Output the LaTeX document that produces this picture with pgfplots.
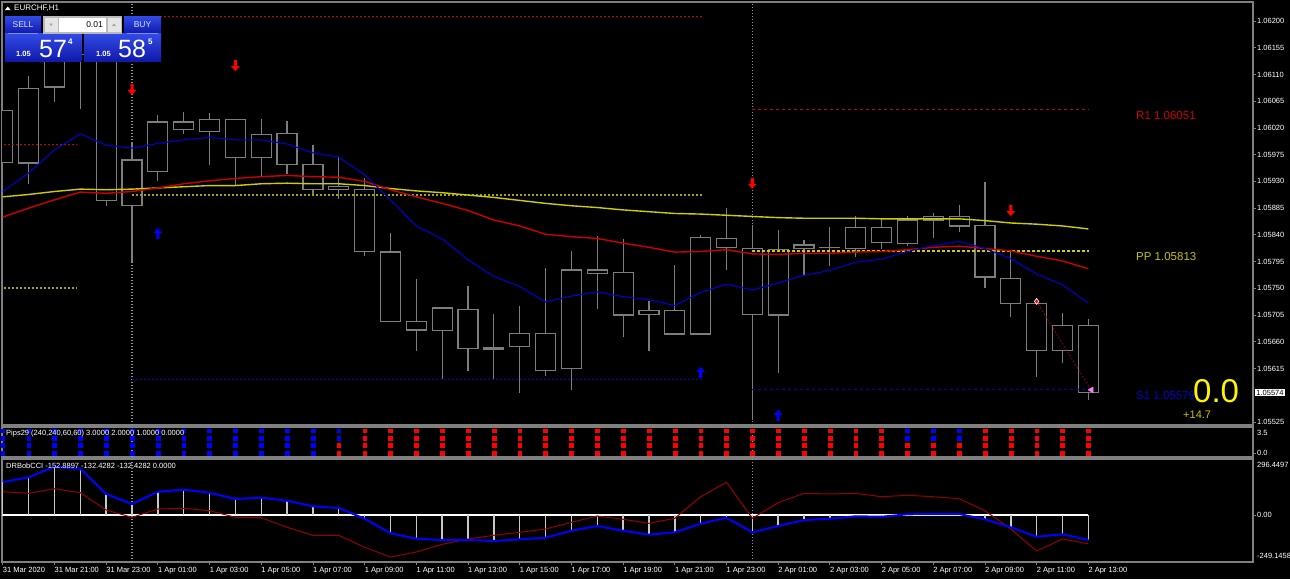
\documentclass[border=0pt]{standalone}
\usepackage{pgfplots}
\pgfplotsset{compat=1.18}
\usepackage{pgfplotstable}
\usepackage{fontspec}
\setmainfont{Liberation Sans}

\definecolor{candle}{RGB}{125,125,125}
\definecolor{panelgray}{RGB}{128,128,128}
\definecolor{mablue}{RGB}{0,0,205}
\definecolor{mared}{RGB}{205,0,0}
\definecolor{mayel}{RGB}{205,205,0}
\definecolor{olivetwo}{RGB}{165,165,0}
\definecolor{ppcol}{RGB}{195,195,0}
\definecolor{ccired}{RGB}{150,0,0}
\definecolor{histgray}{RGB}{200,200,200}
\definecolor{btnTop}{RGB}{50,75,230}
\definecolor{btnBot}{RGB}{15,25,170}
\definecolor{pinkm}{RGB}{238,130,238}
\definecolor{seltext}{RGB}{215,225,255}

\pgfdeclareplotmark{dnarrow}{%
 \pgfpathmoveto{\pgfqpoint{-1.5pt}{6pt}}%
 \pgfpathlineto{\pgfqpoint{1.5pt}{6pt}}%
 \pgfpathlineto{\pgfqpoint{1.5pt}{0pt}}%
 \pgfpathlineto{\pgfqpoint{4.3pt}{0pt}}%
 \pgfpathlineto{\pgfqpoint{0pt}{-5pt}}%
 \pgfpathlineto{\pgfqpoint{-4.3pt}{0pt}}%
 \pgfpathlineto{\pgfqpoint{-1.5pt}{0pt}}%
 \pgfpathclose\pgfusepathqfill}
\pgfdeclareplotmark{uparrow}{%
 \pgfpathmoveto{\pgfqpoint{-1.5pt}{-6pt}}%
 \pgfpathlineto{\pgfqpoint{1.5pt}{-6pt}}%
 \pgfpathlineto{\pgfqpoint{1.5pt}{0pt}}%
 \pgfpathlineto{\pgfqpoint{4.3pt}{0pt}}%
 \pgfpathlineto{\pgfqpoint{0pt}{5pt}}%
 \pgfpathlineto{\pgfqpoint{-4.3pt}{0pt}}%
 \pgfpathlineto{\pgfqpoint{-1.5pt}{0pt}}%
 \pgfpathclose\pgfusepathqfill}

% prices in units of 0.00001 above 1.05000
\pgfplotstableread{
i wl bl bh wh
0 946 962 1049 1106
1 925 961 1087 1107
2 1063 1089 1151 1176
3 1052 1143 1185 1202
4 889 898 1160 1176
5 795 889 966 997
6 931 946 1030 1042
7 1009 1017 1030 1047
8 957 1014 1034 1045
9 924 970 1034 1034
10 938 970 1009 1035
11 942 958 1011 1031
12 908 917 958 991
13 900 917 921 972
14 805 812 917 935
15 694 694 811 843
16 645 680 694 765
17 597 679 717 717
18 610 649 715 754
19 597 648 650 707
20 574 652 674 720
21 602 611 674 784
22 578 615 781 813
23 715 775 781 838
24 668 705 777 833
25 645 706 713 729
26 673 673 713 789
27 673 673 835 840
28 781 819 834 886
29 528 706 817 857
30 608 705 816 849
31 771 817 823 831
32 788 819 819 853
33 802 817 852 871
34 816 827 852 868
35 822 826 865 872
36 835 865 871 876
37 845 855 871 891
38 751 769 856 929
39 702 724 767 813
40 600 646 724 724
41 625 646 687 709
42 562 575 687 698
}\candles

\pgfplotstableread{
i blue red yel
0 913 870 904
1 944 885 908
2 983 899 913
3 1010 912 917
4 991 910 916
5 986 913 917
6 994 919 919
7 1000 926 921
8 1004 931 923
9 1000 935 923
10 1000 938 926
11 993 940 927
12 978 938 926
13 971 937 926
14 941 930 923
15 899 916 918
16 855 904 914
17 833 893 911
18 798 881 907
19 770 865 903
20 753 855 898
21 727 841 893
22 737 837 889
23 744 834 886
24 736 826 882
25 731 819 879
26 721 811 876
27 743 812 875
28 757 815 873
29 747 808 871
30 759 807 869
31 772 809 868
32 780 809 868
33 794 811 868
34 799 812 867
35 812 815 867
36 822 819 867
37 829 821 867
38 817 817 864
39 800 813 860
40 774 804 858
41 756 796 855
42 725 783 850
}\mas

\pgfplotstableread{
i cci turbo
0 174.6 123.2
1 199.5 114.8
2 255.7 139.1
3 245.1 117.9
4 111.0 26.3
5 58.1 -12.4
6 123.2 31.6
7 133.8 35.3
8 117.9 22.6
9 84.6 -12.4
10 91.4 -14.5
11 75.6 -65.3
12 45.9 -107.7
13 36.9 -107.7
14 -19.8 -171.3
15 -97.1 -222.7
16 -125.7 -196.2
17 -132.6 -155.4
18 -132.6 -127.3
19 -137.9 -107.7
20 -128.9 -91.8
21 -120.4 -74.3
22 -83.4 -39.0
23 -58.4 -5.5
24 -83.4 -23.0
25 -104.5 -44.2
26 -91.8 -17.7
27 -46.3 96.7
28 -14.5 173.0
29 -91.8 -17.7
30 -58.4 65.0
31 -26.7 114.8
32 -19.8 111.1
33 -7.1 114.8
34 -9.2 96.7
35 3.5 104.2
36 5.1 96.7
37 5.1 86.2
38 -23.0 22.6
39 -65.4 -74.3
40 -115.1 -190.9
41 -102.4 -127.3
42 -132.4 -152.9
}\ccitab

\pgfplotsset{
 mtpanel/.style={
  scale only axis, width=1251pt, xmin=-0.03, xmax=48.37,
  axis line style={draw=panelgray, line width=1.2pt},
  tick label style={font=\fontsize{7.5}{9}\selectfont, text=white},
  ytick pos=right, yticklabel pos=right,
  tick align=outside, major tick length=3pt,
  tick style={draw=panelgray, line width=0.8pt},
  yticklabel style={anchor=west, inner sep=1pt},
  clip=true,
 },
 sep/.style={draw=gray!85, line width=1.2pt, dash pattern=on 1.5pt off 1.5pt},
}

\begin{document}
\begin{tikzpicture}
\useasboundingbox (0,0) rectangle (1290pt,-579pt);
\fill[black] (0,0) rectangle (1290pt,-579pt);

% ---------------- main price panel ----------------
\begin{axis}[mtpanel, at={(2pt,-425pt)}, anchor=south west, height=423pt,
  ymin=519.9, ymax=1232, xtick=\empty,
  ytick={1200,1155,1110,1065,1020,975,930,885,840,795,750,705,660,615,525},
  yticklabels={1.06200,1.06155,1.06110,1.06065,1.06020,1.05975,1.05930,1.05885,1.05840,1.05795,1.05750,1.05705,1.05660,1.05615,1.05525}]
\addplot[sep] coordinates {(5,519.9) (5,1232)};
\addplot[sep] coordinates {(29,519.9) (29,1232)};
% candles: wicks, body outline, body fill
\addplot[draw=none, mark=none, error bars/.cd, y dir=plus, y explicit, error mark=none,
  error bar style={draw=candle, line width=1.2pt, solid}]
  table[x=i, y=wl, y error expr=\thisrow{wh}-\thisrow{wl}] {\candles};
\addplot[draw=none, mark=none, error bars/.cd, y dir=plus, y explicit, error mark=none,
  error bar style={draw=candle, line width=21.2pt, solid}]
  table[x=i, y expr=\thisrow{bl}-1.0, y error expr=\thisrow{bh}-\thisrow{bl}+2.0] {\candles};
\addplot[draw=none, mark=none, error bars/.cd, y dir=plus, y explicit, error mark=none,
  error bar style={draw=black, line width=18.8pt, solid}]
  table[x=i, y expr=\thisrow{bl}+1.0, y error expr={max(\thisrow{bh}-\thisrow{bl}-2.0,0)}] {\candles};
% pivot levels
\addplot[draw=mared, line width=1.5pt, dash pattern=on 2pt off 2pt] coordinates {(-0.1,992) (2.87,992)};
\addplot[draw=olivetwo, line width=1.8pt, dash pattern=on 2pt off 2pt] coordinates {(-0.1,751) (2.87,751)};
\addplot[draw=mared, line width=1pt, dash pattern=on 2pt off 2pt] coordinates {(5,1208) (27.1,1208)};
\addplot[draw=olivetwo, line width=1.8pt, dash pattern=on 2pt off 2pt] coordinates {(5,907) (27.1,907)};
\addplot[draw=mablue, line width=1pt, dash pattern=on 2pt off 2pt] coordinates {(5,596) (27.1,596)};
\addplot[draw=mared, line width=0.9pt, dash pattern=on 3pt off 3pt] coordinates {(29,1051) (42.03,1051)};
\addplot[draw=mayel, line width=1.3pt, dash pattern=on 3pt off 2pt] coordinates {(29,813) (42.03,813)};
\addplot[draw=mablue, line width=0.9pt, dash pattern=on 3pt off 3pt] coordinates {(29,579) (42.03,579)};
% moving averages
\addplot[mayel, line width=1.4pt] table[x=i, y=yel] {\mas};
\addplot[mared, line width=1.4pt] table[x=i, y=red] {\mas};
\addplot[mablue, line width=1.1pt] table[x=i, y=blue] {\mas};
% signal arrows
\addplot[only marks, mark=dnarrow, color=red] coordinates {(5,1084) (9,1124) (29,926) (39,880)};
\addplot[only marks, mark=uparrow, color=blue] coordinates {(6,843) (27,609) (30,537)};
% trade
\addplot[ccired, line width=0.9pt, dash pattern=on 1.5pt off 2pt] coordinates {(40,728) (42.1,579)};
\addplot[only marks, mark=diamond*, mark size=3pt, mark options={fill=red, draw=white, line width=0.6pt}] coordinates {(40,728)};
\addplot[only marks, mark=triangle*, mark size=3.5pt, mark options={fill=pinkm, draw=pinkm, rotate=90}] coordinates {(42.12,579)};
\end{axis}
\node[fill=white, text=black, font=\fontsize{7.5}{9}\selectfont, inner sep=1.2pt, anchor=west] at (1255pt,-392.5pt) {1.05574};

% ---------------- Pips29 panel ----------------
\begin{axis}[mtpanel, at={(2pt,-457pt)}, anchor=south west, height=30pt,
  ymin=-0.55, ymax=3.5, xtick=\empty, ytick={0}, yticklabels={0.0}]
\addplot[sep] coordinates {(5,-0.55) (5,3.5)};
\addplot[sep] coordinates {(29,-0.55) (29,3.5)};
\addplot[only marks, mark=square*, mark size=1.9pt, color=blue] coordinates {
(0,0)(0,1)(0,2)(0,3)(1,0)(1,1)(1,2)(1,3)(2,0)(2,1)(2,2)(2,3)(3,0)(3,1)(3,2)(3,3)
(4,0)(4,1)(4,2)(4,3)(5,0)(5,1)(5,2)(5,3)(6,0)(6,1)(6,2)(6,3)(7,0)(7,1)(7,2)(7,3)
(8,0)(8,1)(8,2)(8,3)(9,0)(9,1)(9,2)(9,3)(10,0)(10,1)(10,2)(10,3)(11,0)(11,1)(11,2)(11,3)
(12,0)(12,1)(12,2)(12,3)(13,2)(13,3)(35,2)(35,3)(36,2)(36,3)(37,2)(37,3)};
\addplot[only marks, mark=square*, mark size=1.9pt, color=red] coordinates {
(13,0)(13,1)
(14,0)(14,1)(14,2)(14,3)(15,0)(15,1)(15,2)(15,3)(16,0)(16,1)(16,2)(16,3)(17,0)(17,1)(17,2)(17,3)
(18,0)(18,1)(18,2)(18,3)(19,0)(19,1)(19,2)(19,3)(20,0)(20,1)(20,2)(20,3)(21,0)(21,1)(21,2)(21,3)
(22,0)(22,1)(22,2)(22,3)(23,0)(23,1)(23,2)(23,3)(24,0)(24,1)(24,2)(24,3)(25,0)(25,1)(25,2)(25,3)
(26,0)(26,1)(26,2)(26,3)(27,0)(27,1)(27,2)(27,3)(28,0)(28,1)(28,2)(28,3)(29,0)(29,1)(29,2)(29,3)
(30,0)(30,1)(30,2)(30,3)(31,0)(31,1)(31,2)(31,3)(32,0)(32,1)(32,2)(32,3)(33,0)(33,1)(33,2)(33,3)
(34,0)(34,1)(34,2)(34,3)(35,0)(35,1)(36,0)(36,1)(37,0)(37,1)
(38,0)(38,1)(38,2)(38,3)(39,0)(39,1)(39,2)(39,3)(40,0)(40,1)(40,2)(40,3)(41,0)(41,1)(41,2)(41,3)
(42,0)(42,1)(42,2)(42,3)};
\end{axis}

% ---------------- DRBobCCI panel ----------------
\begin{axis}[mtpanel, at={(2pt,-562pt)}, anchor=south west, height=103pt,
  ymin=-249.1458, ymax=296.4497,
  xtick={0,2,...,42}, xtick pos=bottom,
  xticklabels={31 Mar 2020,31 Mar 21:00,31 Mar 23:00,1 Apr 01:00,1 Apr 03:00,1 Apr 05:00,1 Apr 07:00,1 Apr 09:00,1 Apr 11:00,1 Apr 13:00,1 Apr 15:00,1 Apr 17:00,1 Apr 19:00,1 Apr 21:00,1 Apr 23:00,2 Apr 01:00,2 Apr 03:00,2 Apr 05:00,2 Apr 07:00,2 Apr 09:00,2 Apr 11:00,2 Apr 13:00},
  xticklabel style={anchor=north west, inner sep=0pt, yshift=-2.5pt},
  ytick={0}, yticklabels={0.00}]
\addplot[sep] coordinates {(5,-249.1458) (5,296.4497)};
\addplot[sep] coordinates {(29,-249.1458) (29,296.4497)};
\addplot[white, line width=1.3pt] coordinates {(-0.5,0) (42,0)};
\addplot[ycomb, histgray, line width=1.4pt] table[x=i, y=cci] {\ccitab};
\addplot[ccired, line width=1pt] table[x=i, y=turbo] {\ccitab};
\addplot[blue, line width=2pt] table[x=i, y=cci] {\ccitab};
\end{axis}

% ---------------- texts and trade panel ----------------
\fill[white] (5pt,-10pt) -- (10.5pt,-10pt) -- (7.75pt,-6.5pt) -- cycle;
\node[anchor=west, text=white, font=\fontsize{8}{9}\selectfont, inner sep=0pt] at (14pt,-8.5pt) {EURCHF,H1};

\shade[top color=btnTop, bottom color=btnBot] (5pt,-16pt) rectangle (41pt,-33.5pt);
\shade[top color=btnTop, bottom color=btnBot] (5pt,-33.5pt) rectangle (81.5pt,-61.5pt);
\shade[top color=btnTop, bottom color=btnBot] (124pt,-16pt) rectangle (161pt,-33.5pt);
\shade[top color=btnTop, bottom color=btnBot] (84pt,-33.5pt) rectangle (161pt,-61.5pt);
\draw[color={rgb,255:red,120;green,140;blue,255}, line width=0.6pt] (8pt,-33.5pt) -- (38pt,-33.5pt) (127pt,-33.5pt) -- (158pt,-33.5pt);
\fill[gray!55] (43.3pt,-16pt) rectangle (122pt,-33.5pt);
\fill[white] (59pt,-17.5pt) rectangle (106pt,-32pt);
\fill[gray!20] (44.5pt,-17.5pt) rectangle (57.5pt,-32pt);
\fill[gray!20] (107.5pt,-17.5pt) rectangle (120.5pt,-32pt);
\fill[gray!70] (49pt,-23.5pt) -- (53pt,-23.5pt) -- (51pt,-26pt) -- cycle;
\fill[gray!70] (112pt,-26pt) -- (116pt,-26pt) -- (114pt,-23.5pt) -- cycle;
\node[anchor=east, text=black, font=\fontsize{8.5}{10}\selectfont, inner sep=0pt] at (103pt,-24.8pt) {0.01};
\node[text=seltext, font=\fontsize{8.5}{10}\selectfont, inner sep=0pt] at (23pt,-24.8pt) {SELL};
\node[text=seltext, font=\fontsize{8.5}{10}\selectfont, inner sep=0pt] at (142.5pt,-24.8pt) {BUY};
\node[anchor=base west, text=white, font=\fontsize{7.5}{9}\selectfont\bfseries, inner sep=0pt] at (16pt,-56.5pt) {1.05};
\node[anchor=base west, text=white, font=\fontsize{25}{28}\selectfont, inner sep=0pt] at (39pt,-57.5pt) {57};
\node[anchor=base west, text=white, font=\fontsize{8}{9}\selectfont\bfseries, inner sep=0pt] at (68pt,-44pt) {4};
\node[anchor=base west, text=white, font=\fontsize{7.5}{9}\selectfont\bfseries, inner sep=0pt] at (96pt,-56.5pt) {1.05};
\node[anchor=base west, text=white, font=\fontsize{25}{28}\selectfont, inner sep=0pt] at (118pt,-57.5pt) {58};
\node[anchor=base west, text=white, font=\fontsize{8}{9}\selectfont\bfseries, inner sep=0pt] at (148pt,-44pt) {5};

\node[anchor=west, text=mared, font=\fontsize{11.5}{13}\selectfont, inner sep=0pt] at (1136pt,-116pt) {R1 1.06051};
\node[anchor=west, text=ppcol, font=\fontsize{11.5}{13}\selectfont, inner sep=0pt] at (1136pt,-257pt) {PP 1.05813};
\node[anchor=west, text=mablue, font=\fontsize{11.5}{13}\selectfont, inner sep=0pt] at (1136pt,-396pt) {S1 1.05579};
\node[anchor=base west, text=yellow, font=\fontsize{33}{36}\selectfont, inner sep=0pt] at (1193pt,-402pt) {0.0};
\node[anchor=base west, text=ppcol, font=\fontsize{11}{13}\selectfont, inner sep=0pt] at (1183pt,-418.5pt) {+14.7};

\node[anchor=west, text=white, font=\fontsize{7.5}{9}\selectfont, inner sep=0pt] at (6pt,-433.5pt) {Pips29 (240,240,60,60) 3.0000 2.0000 1.0000 0.0000};
\node[anchor=west, text=white, font=\fontsize{7.5}{9}\selectfont, inner sep=0pt] at (1257pt,-432.5pt) {3.5};
\node[anchor=west, text=white, font=\fontsize{7.5}{9}\selectfont, inner sep=0pt] at (6pt,-466pt) {DRBobCCI -152.8897 -132.4282 -132.4282 0.0000};
\node[anchor=west, text=white, font=\fontsize{7.5}{9}\selectfont, inner sep=0pt] at (1257pt,-465pt) {296.4497};
\node[anchor=west, text=white, font=\fontsize{7.5}{9}\selectfont, inner sep=0pt] at (1257pt,-556pt) {-249.1458};
\end{tikzpicture}
\end{document}
